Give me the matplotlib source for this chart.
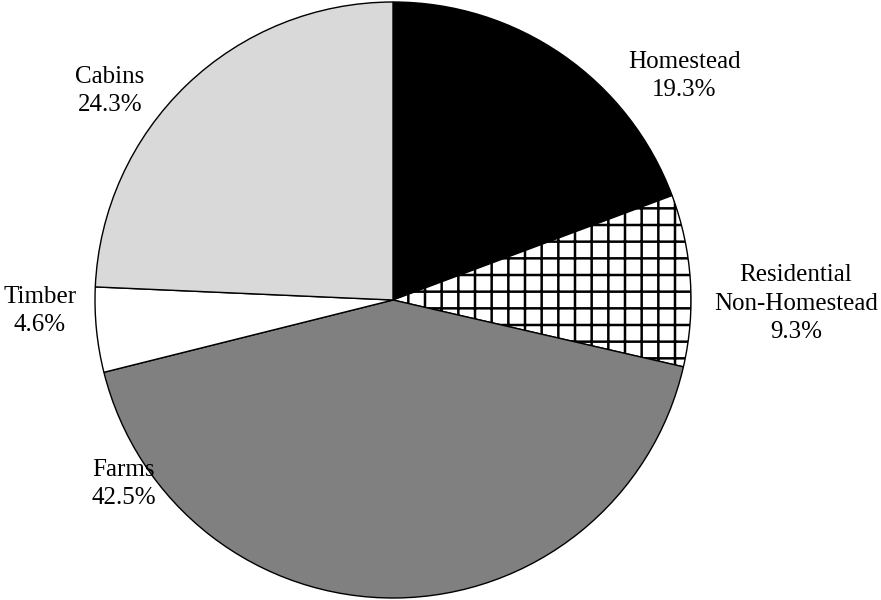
import matplotlib
matplotlib.use("Agg")
import matplotlib.pyplot as plt

categories = ["Homestead", "Residential\nNon-Homestead", "Farms", "Timber", "Cabins"]
shares = [19.3, 9.3, 42.5, 4.6, 24.3]

colors = ["#000000", "#ffffff", "#808080", "#ffffff", "#d9d9d9"]
hatches = ["", "+", "", "", ""]
label_pos = [(0.977, 0.752), (1.352, -0.013), (-0.903, -0.617), (-1.185, -0.037), (-0.950, 0.701)]

plt.rcParams["font.family"] = ["Liberation Serif", "DejaVu Serif"]
plt.rcParams["hatch.linewidth"] = 1.8
plt.rcParams["hatch.color"] = "black"

fig = plt.figure(figsize=(8.81, 6.0), dpi=100)
ax = fig.add_axes([0, 0, 1, 1])
wedges, _ = ax.pie(shares, colors=colors, startangle=90, counterclock=False,
                   radius=1.0, center=(0, 0),
                   wedgeprops=dict(edgecolor="black", linewidth=1.0))
for w, h in zip(wedges, hatches):
    if h:
        w.set_hatch(h)
for cat, val, (x, y) in zip(categories, shares, label_pos):
    ax.text(x, y, f"{cat}\n{val:.1f}%", ha="center", va="center",
            fontsize=18, linespacing=1.38)
ax.set_xlim(-393 / 298, (881 - 393) / 298)
ax.set_ylim(-300 / 298, 300 / 298)
ax.set_aspect("auto")
ax.axis("off")
fig.savefig("out.png", dpi=100)
